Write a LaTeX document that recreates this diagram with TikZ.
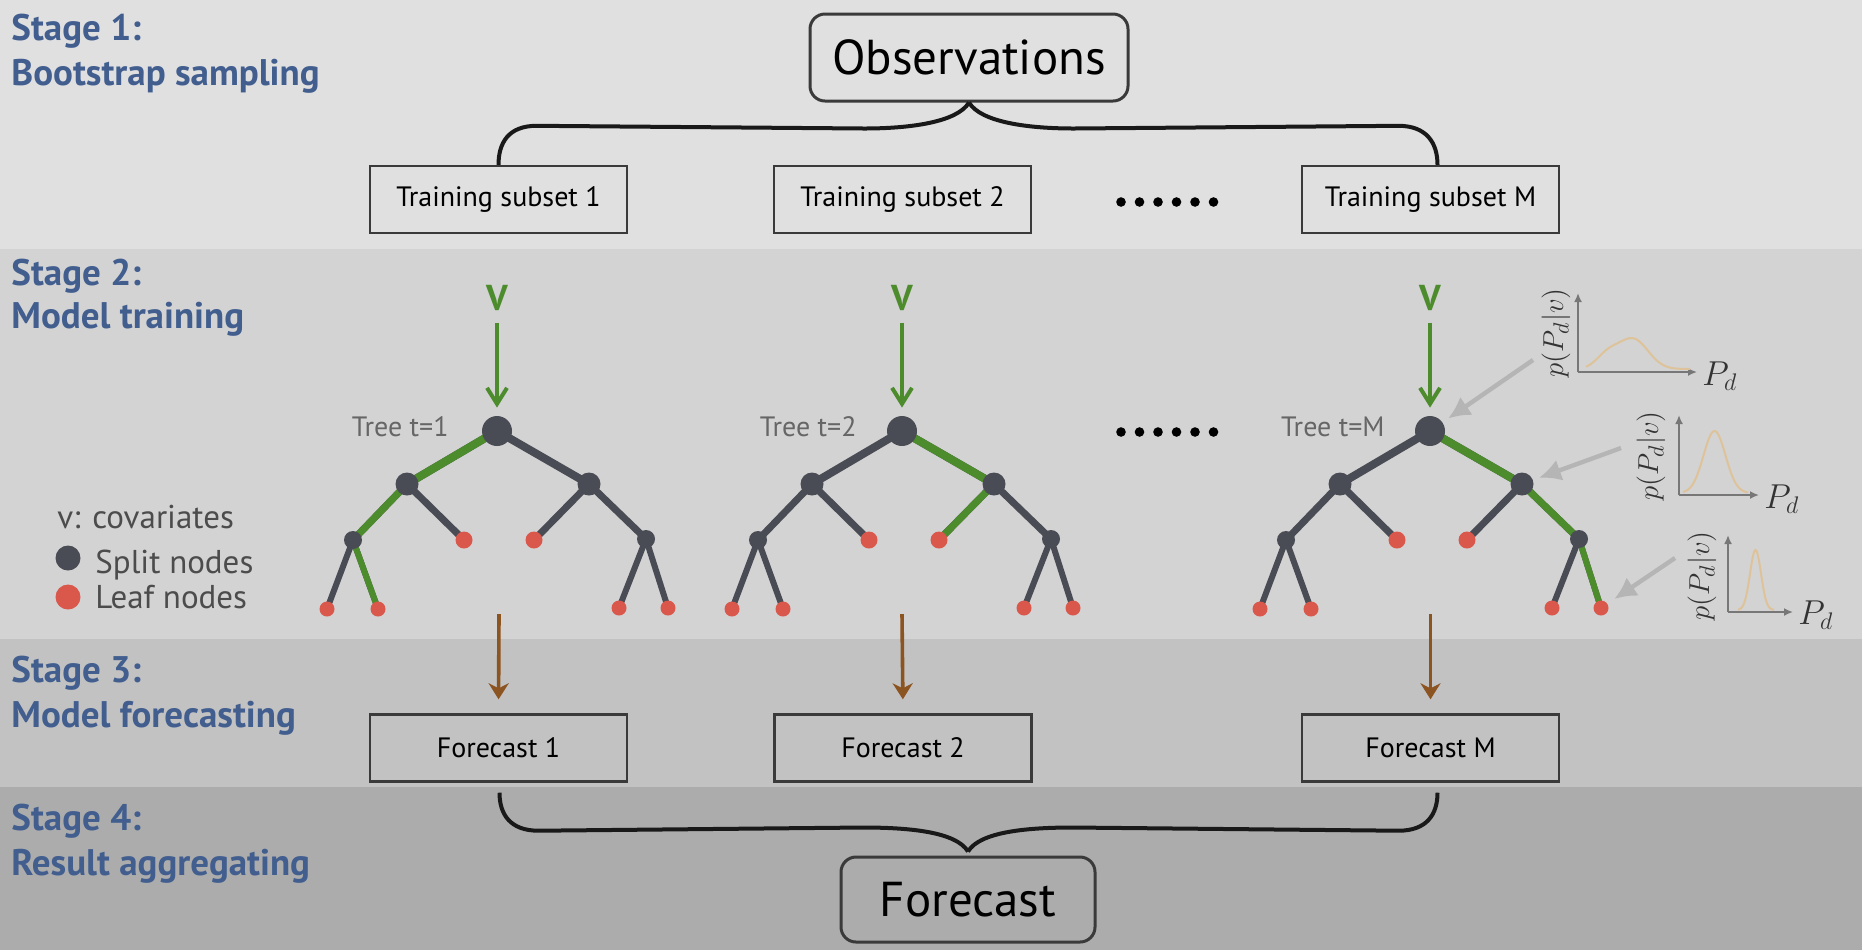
\documentclass[tikz,border=0pt]{standalone}
\usepackage{fontspec}
\setmainfont{PT Sans}
\usetikzlibrary{arrows.meta,calc}
\definecolor{bgA}{HTML}{E0E0E0}
\definecolor{bgB}{HTML}{D3D3D3}
\definecolor{bgC}{HTML}{C2C2C2}
\definecolor{bgD}{HTML}{ACACAC}
\definecolor{stageblue}{HTML}{415E8F}
\definecolor{splitc}{HTML}{4A4C55}
\definecolor{leafc}{HTML}{D9574B}
\definecolor{greenc}{HTML}{4D8C2C}
\definecolor{brownc}{HTML}{8C5420}
\definecolor{labelgray}{HTML}{666666}
\definecolor{boxline}{HTML}{3A3A3A}
\definecolor{pgray}{HTML}{B5B5B5}
\definecolor{curvec}{HTML}{DEC39A}
\definecolor{axisc}{HTML}{777777}
\pgfdeclarelayer{back}
\pgfdeclarelayer{edges}
\pgfsetlayers{back,edges,main}
\tikzset{
  stagelbl/.style={anchor=base west,inner sep=0pt,text=stageblue,font=\fontsize{18.5}{21}\selectfont\bfseries},
  bigbox/.style={draw=boxline,line width=1.5pt,rounded corners=7.5pt,inner sep=0pt,font=\fontsize{24.5}{28}\selectfont},
  subbox/.style={draw=boxline,line width=1.2pt,minimum width=128.5pt,minimum height=33.5pt,inner sep=0pt,font=\fontsize{14}{16}\selectfont},
  brace/.style={line width=2pt,draw=black!90},
  rootnode/.style={circle,fill=splitc,inner sep=0pt,minimum size=15pt},
  lonenode/.style={circle,fill=splitc,inner sep=0pt,minimum size=11.5pt},
  ltwonode/.style={circle,fill=splitc,inner sep=0pt,minimum size=9pt},
  leafA/.style={circle,fill=leafc,inner sep=0pt,minimum size=8.5pt},
  leafB/.style={circle,fill=leafc,inner sep=0pt,minimum size=7.5pt},
  eone/.style={line width=4pt,draw=splitc},
  etwo/.style={line width=3.5pt,draw=splitc},
  ethree/.style={line width=3pt,draw=splitc},
  vlbl/.style={inner sep=0pt,text=greenc,font=\fontsize{18}{20}\selectfont\bfseries},
  greenarrow/.style={draw=greenc,line width=2pt,-{Straight Barb[length=8pt,width=10pt,line width=2pt]}},
  brownarrow/.style={draw=brownc,line width=1.8pt,-{Stealth[length=8pt,width=10pt,inset=2.5pt]}},
  treelbl/.style={anchor=mid east,inner sep=0pt,text=labelgray,font=\fontsize{14}{16}\selectfont},
  legtext/.style={anchor=base west,inner sep=0pt,text=black!70,font=\fontsize{16.5}{18}\selectfont},
  grayarrow/.style={draw=pgray,line width=2.2pt,-{Latex[length=11pt,width=11pt]}},
  axis/.style={draw=axisc,line width=1.1pt,-{Latex[length=4.5pt,width=4pt]}},
  dens/.style={draw=curvec,line width=1pt},
  plbl/.style={inner sep=0pt,text=black!80,font=\fontsize{15}{17}\selectfont},
  pdlbl/.style={inner sep=0pt,anchor=west,text=black!80,font=\fontsize{18}{20}\selectfont},
}
\newcommand\rftree[2]{%
  \node[rootnode] (#1r) at (#2,431) {};
  \node[lonenode] (#1a) at ($(#1r)+(-90,53)$) {};
  \node[lonenode] (#1b) at ($(#1r)+(92,53)$) {};
  \node[ltwonode] (#1aa) at ($(#1a)+(-54,56)$) {};
  \node[leafA] (#1ab) at ($(#1a)+(57,56)$) {};
  \node[leafA] (#1ba) at ($(#1b)+(-55,56)$) {};
  \node[ltwonode] (#1bb) at ($(#1b)+(57,55)$) {};
  \node[leafB] (#1aaa) at ($(#1aa)+(-26,69)$) {};
  \node[leafB] (#1aab) at ($(#1aa)+(25,69)$) {};
  \node[leafB] (#1bba) at ($(#1bb)+(-27,69)$) {};
  \node[leafB] (#1bbb) at ($(#1bb)+(22,69)$) {};
  \begin{pgfonlayer}{edges}
    \draw[eone] (#1r.center) -- (#1a.center);
    \draw[eone] (#1r.center) -- (#1b.center);
    \draw[etwo] (#1a.center) -- (#1aa.center);
    \draw[etwo] (#1a.center) -- (#1ab.center);
    \draw[etwo] (#1b.center) -- (#1ba.center);
    \draw[etwo] (#1b.center) -- (#1bb.center);
    \draw[ethree] (#1aa.center) -- (#1aaa.center);
    \draw[ethree] (#1aa.center) -- (#1aab.center);
    \draw[ethree] (#1bb.center) -- (#1bba.center);
    \draw[ethree] (#1bb.center) -- (#1bbb.center);
  \end{pgfonlayer}
}
\begin{document}
\begin{tikzpicture}[x=0.5pt,y=-0.5pt]
\useasboundingbox (0,0) rectangle (1862,950);
\begin{pgfonlayer}{back}
\fill[bgA] (0,0) rectangle (1862,249);
\fill[bgB] (0,249) rectangle (1862,639);
\fill[bgC] (0,639) rectangle (1862,787);
\fill[bgD] (0,787) rectangle (1862,950);
\end{pgfonlayer}

% stage labels
\node[stagelbl] (s1a) at (11,40) {Stage 1:};
\node[stagelbl] (s1b) at (11,85) {Bootstrap sampling};
\node[stagelbl] (s2a) at (11,285) {Stage 2:};
\node[stagelbl] (s2b) at (11,328) {Model training};
\node[stagelbl] (s3a) at (11,682) {Stage 3:};
\node[stagelbl] (s3b) at (11,727) {Model forecasting};
\node[stagelbl] (s4a) at (11,830) {Stage 4:};
\node[stagelbl] (s4b) at (11,875) {Result aggregating};

% stage 1
\node[bigbox,minimum width=159pt,minimum height=43.5pt] (obs) at (969,57.5) {Observations};
\node[subbox] (ts1) at (498.5,199.5) {Training subset 1};
\node[subbox] (ts2) at (902.5,199.5) {Training subset 2};
\node[subbox] (tsM) at (1430.5,199.5) {Training subset M};
\foreach \i in {0,...,5} \fill (1121+\i*18.5,202) circle[radius=2.4pt];

\draw[brace] (obs.south) .. controls +(-12,20) and +(45,0) .. ($(obs.south)+(-105,26)$)
  -- ($(ts1.north)+(38,-39)$) .. controls +(-28,0) and +(0,-22) .. (ts1.north);
\draw[brace] (obs.south) .. controls +(12,20) and +(-45,0) .. ($(obs.south)+(105,26)$)
  -- ($(tsM.north)+(-32,-39)$) .. controls +(28,0) and +(0,-22) .. ($(tsM.north)+(7,0)$);

% stage 2: trees
\rftree{ta}{497}
\rftree{tb}{902}
\rftree{tc}{1430}
\begin{pgfonlayer}{edges}
\draw[eone,draw=greenc] (tar.center) -- (taa.center);
\draw[etwo,draw=greenc] (taa.center) -- (taaa.center);
\draw[ethree,draw=greenc] (taaa.center) -- (taaab.center);
\draw[eone,draw=greenc] (tbr.center) -- (tbb.center);
\draw[etwo,draw=greenc] (tbb.center) -- (tbba.center);
\draw[eone,draw=greenc] (tcr.center) -- (tcb.center);
\draw[etwo,draw=greenc] (tcb.center) -- (tcbb.center);
\draw[ethree,draw=greenc] (tcbb.center) -- (tcbbb.center);
\end{pgfonlayer}

\node[treelbl] (la) at ($(tar)+(-48,0)$) {Tree t=1};
\node[treelbl] (lb) at ($(tbr)+(-45,0)$) {Tree t=2};
\node[treelbl] (lc) at ($(tcr)+(-45,0)$) {Tree t=M};
\foreach \i in {0,...,5} \fill (1121+\i*18.5,432) circle[radius=2.4pt];

\node[vlbl] (va) at (497,297.5) {V};
\node[vlbl] (vb) at (902,297.5) {V};
\node[vlbl] (vc) at (1430,297.5) {V};
\draw[greenarrow,shorten <=6pt,shorten >=4pt] (va.south) -- (tar.north);
\draw[greenarrow,shorten <=6pt,shorten >=4pt] (vb.south) -- (tbr.north);
\draw[greenarrow,shorten <=6pt,shorten >=4pt] (vc.south) -- (tcr.north);

% legend
\node[legtext] (lg1) at (57,528) {v: covariates};
\node[circle,fill=splitc,inner sep=0pt,minimum size=12.5pt] (lgd1) at (68,558) {};
\node[legtext] (lg2) at (95,573) {Split nodes};
\node[circle,fill=leafc,inner sep=0pt,minimum size=12.5pt] (lgd2) at (68,597) {};
\node[legtext] (lg3) at (95,608) {Leaf nodes};

% distributions
\coordinate (oa) at (1578,372);
\draw[axis] (oa) -- (1578,293);
\draw[axis] (oa) -- (1697,372);
\draw[dens] plot[domain=1586:1690,samples=60,smooth] (\x,{369-13*exp(-((\x-1607)/11)^2/2)-30*exp(-((\x-1633)/15)^2/2)});
\node[plbl,rotate=90] (pa) at (1556,333) {$p(P_d|v)$};
\node[pdlbl] (pda) at (1702,376) {$P_d$};

\coordinate (ob) at (1679,495);
\draw[axis] (ob) -- (1679,415);
\draw[axis] (ob) -- (1759,495);
\draw[dens] plot[domain=1683:1748,samples=60,smooth] (\x,{493-62*exp(-((\x-1714.5)/11)^2/2)});
\node[plbl,rotate=90] (pb) at (1651,456) {$p(P_d|v)$};
\node[pdlbl] (pdb) at (1764,499) {$P_d$};

\coordinate (oc) at (1728,612);
\draw[axis] (oc) -- (1728,535);
\draw[axis] (oc) -- (1793,612);
\draw[dens] plot[domain=1738:1774,samples=60,smooth] (\x,{610-60*exp(-((\x-1755.5)/5.5)^2/2)});
\node[plbl,rotate=90] (pc) at (1702,576) {$p(P_d|v)$};
\node[pdlbl] (pdc) at (1798,615) {$P_d$};

\coordinate (ga) at (1533,360);
\coordinate (gb) at (1621,448);
\coordinate (gc) at (1675,558);
\draw[grayarrow,shorten >=11pt] (ga) -- (tcr.center);
\draw[grayarrow,shorten >=9pt] (gb) -- (tcb.center);
\draw[grayarrow,shorten >=8pt] (gc) -- (tcbbb.center);

% stage 3
\node[subbox] (f1) at (498.5,748) {Forecast 1};
\node[subbox] (f2) at (903,748) {Forecast 2};
\node[subbox] (fM) at (1430.5,748) {Forecast M};
\coordinate (ba) at (499,614);
\coordinate (bb) at (902,614);
\coordinate (bc) at (1430,614);
\draw[brownarrow,shorten >=7pt] (ba) -- (f1.north);
\draw[brownarrow,shorten >=7pt] (bb) -- (f2.north);
\draw[brownarrow,shorten >=7pt] ($(bc)+(0.5,0)$) -- (fM.north);

% stage 4
\node[bigbox,minimum width=127pt,minimum height=42.5pt] (fc) at (968,899.5) {Forecast};
\draw[brace] ($(f1.south)+(1,10)$) .. controls +(0,22) and +(-28,0) .. ($(f1.south)+(40,48)$)
  -- ($(fc.north)+(-105,-28)$) .. controls +(45,0) and +(-12,-20) .. ($(fc.north)+(0,-4)$);
\draw[brace] ($(fM.south)+(7,10)$) .. controls +(0,22) and +(28,0) .. ($(fM.south)+(-32,48)$)
  -- ($(fc.north)+(105,-28)$) .. controls +(-45,0) and +(12,-20) .. ($(fc.north)+(0,-4)$);
\end{tikzpicture}
\end{document}
